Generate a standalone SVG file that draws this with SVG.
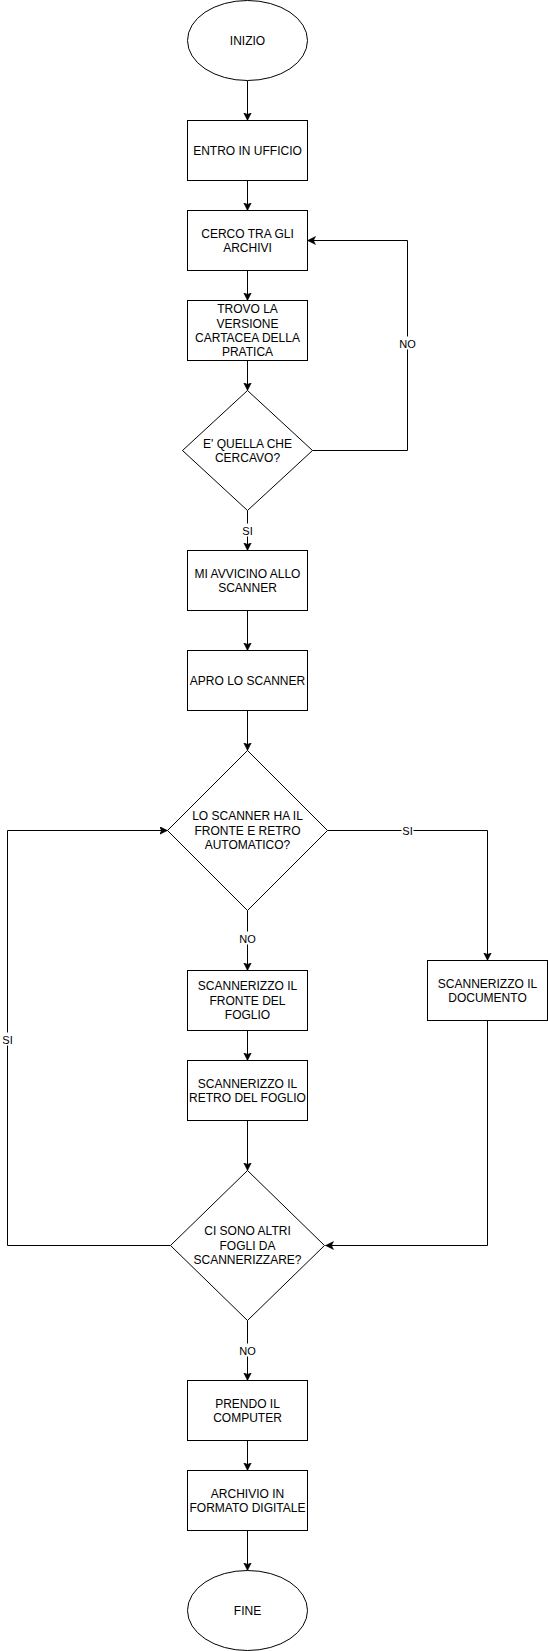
<svg xmlns="http://www.w3.org/2000/svg" width="548" height="1651" viewBox="0 0 548 1651">
<style>
.n{fill:#ffffff;stroke:#000000;stroke-width:1}
.t{font-family:"Liberation Sans",Arial,Helvetica,sans-serif;font-size:12px;fill:#000000;text-anchor:middle}
.e{fill:none;stroke:#000000;stroke-width:1;marker-end:url(#arr)}
.l{font-family:"Liberation Sans",Arial,Helvetica,sans-serif;font-size:11px;fill:#000000;text-anchor:middle}
.lb{fill:#ffffff;stroke:none}
</style>
<defs>
<marker id="arr" markerUnits="userSpaceOnUse" markerWidth="10" markerHeight="10" viewBox="0 0 10 10" refX="8" refY="4" orient="auto">
<path d="M0,0 L8,4 L0,8 L2,4 Z" fill="#000000" stroke="#000000" stroke-width="0.5"/>
</marker>
</defs>
<rect x="0" y="0" width="548" height="1651" fill="#ffffff"/>
<g transform="translate(0.5,0.5)">
<g id="connectors">
<path class="e" d="M247,80 L247,120"/>
<path class="e" d="M247,180 L247,210"/>
<path class="e" d="M247,270 L247,300"/>
<path class="e" d="M247,360 L247,390"/>
<path class="e" d="M312,450 L407,450 L407,240 L307,240"/>
<path class="e" d="M247,510 L247,550"/>
<path class="e" d="M247,610 L247,650"/>
<path class="e" d="M247,710 L247,750"/>
<path class="e" d="M247,910 L247,970"/>
<path class="e" d="M327,830 L487,830 L487,960"/>
<path class="e" d="M247,1030 L247,1060"/>
<path class="e" d="M247,1120 L247,1170"/>
<path class="e" d="M487,1020 L487,1245 L325,1245"/>
<path class="e" d="M170,1245 L7,1245 L7,830 L167,830"/>
<path class="e" d="M247,1320 L247,1380"/>
<path class="e" d="M247,1440 L247,1470"/>
<path class="e" d="M247,1530 L247,1570"/>
<rect class="lb" x="398" y="336" width="18" height="13"/>
<text class="l" x="407" y="347">NO</text>
<rect class="lb" x="241" y="523" width="12" height="13"/>
<text class="l" x="247" y="534">SI</text>
<rect class="lb" x="238" y="931" width="18" height="13"/>
<text class="l" x="247" y="942">NO</text>
<rect class="lb" x="401" y="823" width="12" height="13"/>
<text class="l" x="407" y="834">SI</text>
<rect class="lb" x="1" y="1032" width="12" height="13"/>
<text class="l" x="7" y="1043">SI</text>
<rect class="lb" x="238" y="1343" width="18" height="13"/>
<text class="l" x="247" y="1354">NO</text>
</g>
<g id="inizio">
<ellipse class="n" cx="247" cy="40" rx="60" ry="40"/>
<text class="t" x="247" y="44.3">INIZIO</text>
</g>
<g id="entro">
<rect class="n" x="187" y="120" width="120" height="60"/>
<text class="t" x="247" y="154.3">ENTRO IN UFFICIO</text>
</g>
<g id="cerco">
<rect class="n" x="187" y="210" width="120" height="60"/>
<text class="t" x="247" y="237.1">CERCO TRA GLI</text>
<text class="t" x="247" y="251.5">ARCHIVI</text>
</g>
<g id="trovo">
<rect class="n" x="187" y="300" width="120" height="60"/>
<text class="t" x="247" y="312.7">TROVO LA</text>
<text class="t" x="247" y="327.1">VERSIONE</text>
<text class="t" x="247" y="341.5">CARTACEA DELLA</text>
<text class="t" x="247" y="355.9">PRATICA</text>
</g>
<g id="decisione1">
<polygon class="n" points="247,390 312,450 247,510 182,450"/>
<text class="t" x="247" y="447.1">E' QUELLA CHE</text>
<text class="t" x="247" y="461.5">CERCAVO?</text>
</g>
<g id="avvicino">
<rect class="n" x="187" y="550" width="120" height="60"/>
<text class="t" x="247" y="577.1">MI AVVICINO ALLO</text>
<text class="t" x="247" y="591.5">SCANNER</text>
</g>
<g id="apro">
<rect class="n" x="187" y="650" width="120" height="60"/>
<text class="t" x="247" y="684.3">APRO LO SCANNER</text>
</g>
<g id="decisione2">
<polygon class="n" points="247,750 327,830 247,910 167,830"/>
<text class="t" x="247" y="819.9">LO SCANNER HA IL</text>
<text class="t" x="247" y="834.3">FRONTE E RETRO</text>
<text class="t" x="247" y="848.7">AUTOMATICO?</text>
</g>
<g id="fronte">
<rect class="n" x="187" y="970" width="120" height="60"/>
<text class="t" x="247" y="989.9">SCANNERIZZO IL</text>
<text class="t" x="247" y="1004.3">FRONTE DEL</text>
<text class="t" x="247" y="1018.7">FOGLIO</text>
</g>
<g id="retro">
<rect class="n" x="187" y="1060" width="120" height="60"/>
<text class="t" x="247" y="1087.1">SCANNERIZZO IL</text>
<text class="t" x="247" y="1101.5">RETRO DEL FOGLIO</text>
</g>
<g id="documento">
<rect class="n" x="427" y="960" width="120" height="60"/>
<text class="t" x="487" y="987.1">SCANNERIZZO IL</text>
<text class="t" x="487" y="1001.5">DOCUMENTO</text>
</g>
<g id="decisione3">
<polygon class="n" points="247,1170 324,1245 247,1320 170,1245"/>
<text class="t" x="247" y="1234.9">CI SONO ALTRI</text>
<text class="t" x="247" y="1249.3">FOGLI DA</text>
<text class="t" x="247" y="1263.7">SCANNERIZZARE?</text>
</g>
<g id="prendo">
<rect class="n" x="187" y="1380" width="120" height="60"/>
<text class="t" x="247" y="1407.1">PRENDO IL</text>
<text class="t" x="247" y="1421.5">COMPUTER</text>
</g>
<g id="archivio">
<rect class="n" x="187" y="1470" width="120" height="60"/>
<text class="t" x="247" y="1497.1">ARCHIVIO IN</text>
<text class="t" x="247" y="1511.5">FORMATO DIGITALE</text>
</g>
<g id="fine">
<ellipse class="n" cx="247" cy="1610" rx="60" ry="40"/>
<text class="t" x="247" y="1614.3">FINE</text>
</g>
</g>
</svg>
